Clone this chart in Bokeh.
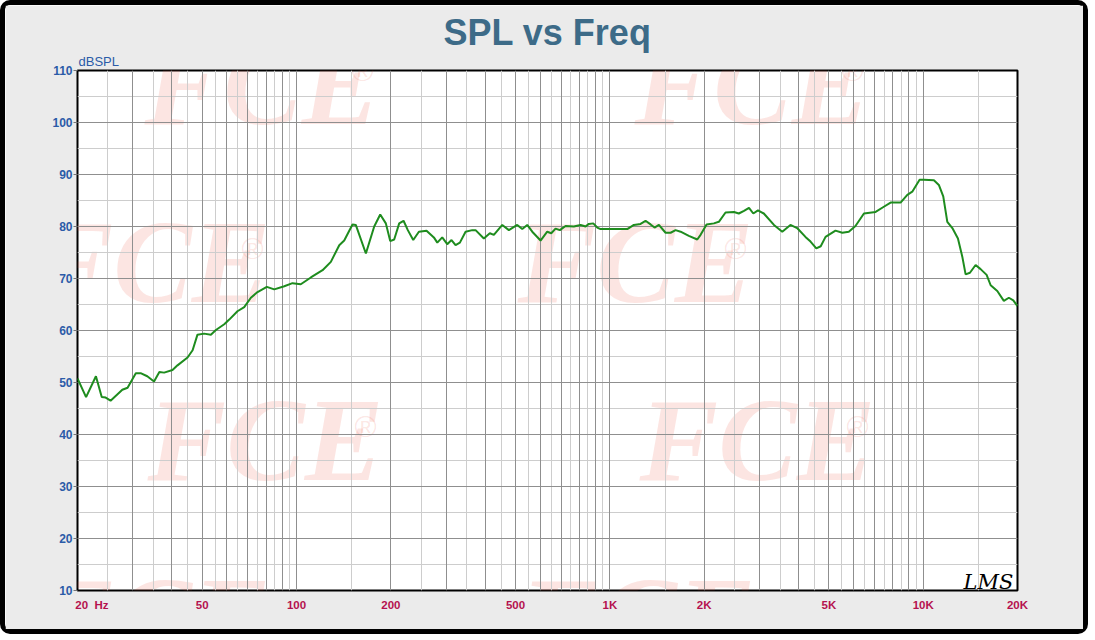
from bokeh.plotting import figure
from bokeh.models import FixedTicker, Grid, Label, Title
from bokeh.embed import file_html
from bokeh.resources import INLINE

# ---- data ----
freq_hz = [20, 21.3, 22.9, 23.9, 24.6, 25.5, 27.8, 28.9, 30.7, 31.8, 33.4, 35.1, 36.5, 37.8,
           40.2, 41.7, 44.9, 46.6, 48.3, 50.7, 53.3, 55.3, 58.8, 61.0, 64.8, 68.1, 71.5, 75.1,
           80.4, 84.9, 91.4, 97.1, 103.2, 111.1, 121.1, 128.7, 136.9, 142.0, 150.9, 154.6,
           166.5, 177.0, 185.0, 192.8, 199.1, 205, 212.7, 219.6, 226.6, 235.8, 245.8, 260,
           274.4, 281.4, 291.8, 302.7, 312.4, 321.8, 332.2, 346.4, 363.8, 372.8, 396.2, 414,
           426.4, 453.6, 476.2, 506.4, 525.4, 545, 565.4, 601, 631.2, 650.2, 671, 692.6, 722.2,
           767.6, 806.4, 836.6, 857, 885.2, 911.8, 934, 1030, 1137, 1193, 1253, 1300, 1349,
           1389, 1434, 1506, 1563, 1621, 1682, 1787, 1901, 1948, 2036, 2148, 2228, 2340, 2490,
           2580, 2680, 2780, 2870, 2970, 3100, 3340, 3550, 3770, 3960, 4210, 4370, 4560, 4710,
           4880, 5250, 5520, 5790, 6080, 6470, 7050, 7490, 7870, 8470, 8900, 9230, 9740, 10050,
           10820, 11220, 11590, 11940, 12390, 12910, 13330, 13660, 14100, 14700, 15250, 15940,
           16420, 17240, 18090, 18770, 19390, 20000]
spl_db = [50.8, 47.2, 51.2, 47.2, 47.1, 46.5, 48.6, 49.0, 51.8, 51.8, 51.2, 50.2, 52.0, 51.9,
          52.4, 53.3, 54.8, 56.2, 59.2, 59.4, 59.2, 60.1, 61.2, 62.1, 63.7, 64.5, 66.3, 67.4,
          68.4, 67.9, 68.5, 69.1, 68.9, 70.2, 71.6, 73.2, 76.4, 77.3, 80.4, 80.3,
          74.8, 80.0, 82.3, 80.6, 77.2, 77.5, 80.6, 81.1, 79.3, 77.4, 79.0, 79.2,
          77.9, 76.9, 77.9, 76.6, 77.4, 76.4, 76.9, 79.0, 79.3, 79.3, 77.7, 78.7,
          78.4, 80.3, 79.3, 80.3, 79.5, 80.3, 79.0, 77.3, 79.0, 78.7, 79.6, 79.3, 80.1,
          80.0, 80.3, 80.0, 80.5, 80.6, 79.8, 79.5, 79.5, 79.5, 80.3, 80.5, 81.1, 80.4,
          79.8, 80.3, 78.8, 78.8, 79.3, 79.0, 78.2, 77.5, 78.4, 80.4, 80.6, 80.9, 82.7, 82.8,
          82.5, 83.0, 83.6, 82.5, 83.1, 82.5, 80.3, 79.0, 80.3, 79.7, 78.0, 77.1, 75.8, 76.2,
          78.0, 79.2, 78.8, 79.0, 80.1, 82.5, 82.8, 83.8, 84.6, 84.6, 86.1, 86.7, 89.0, 89.0,
          88.9, 88.0, 85.8, 80.9, 79.7, 77.7, 74.2, 70.8, 71.1, 72.6, 71.8, 70.7,
          68.7, 67.6, 65.7, 66.3, 65.8, 64.7]

x_major_ticks = [20, 50, 100, 200, 500, 1000, 2000, 5000, 10000, 20000]
x_tick_labels = ["\u00a0" * 9 + "20\u00a0\u00a0Hz", "50", "100", "200", "500",
                 "1K", "2K", "5K", "10K", "20K"]
y_ticks = [10, 20, 30, 40, 50, 60, 70, 80, 90, 100, 110]
title_text = "SPL vs Freq"
y_unit_text = "dBSPL"

# grid line positions (log-paper pattern)
dark_x = (list(range(30, 101, 10)) + list(range(200, 1001, 100)) +
          list(range(2000, 10001, 1000)))
light_x = (list(range(25, 100, 10)) + list(range(150, 1000, 100)) +
           list(range(1500, 10000, 1000)) + [15000])
light_y = [15, 25, 35, 45, 55, 65, 75, 85, 95, 105]

TITLE_C = "#3d6b88"
YLAB_C = "#2b5ba8"
XLAB_C = "#b5124f"
BG = "#ebebeb"
FONT = "Liberation Sans"
WM_C = "#e8503c"

p = figure(width=1088, height=634, x_axis_type="log", x_range=(20, 20000), y_range=(10, 110),
           output_backend="svg", toolbar_location=None,
           min_border_left=72, min_border_right=76, min_border_top=65, min_border_bottom=49)
p.title = None
p.styles = {"border": "5px solid black", "border-radius": "10px"}
p.background_fill_color = "white"
p.border_fill_color = BG
p.outline_line_color = "black"
p.outline_line_width = 2
p.xgrid.visible = False
p.ygrid.visible = False


def px(X):
    return X - 77


def py(Y):
    return 590 - Y


# decorative watermark inside the plot area
for cx, cy in [(262, 84), (752, 84), (152, 262), (635, 262),
               (265, 440), (757, 440), (152, 619), (637, 619)]:
    p.add_layout(Label(x=px(cx), y=py(cy), x_units="screen", y_units="screen", text="FCE",
                       text_font="Liberation Sans Narrow", text_font_style="bold italic",
                       text_font_size="118px", text_color=WM_C, text_alpha=0.15,
                       text_align="center", text_baseline="middle", level="image"))
    p.add_layout(Label(x=px(cx + 100), y=py(cy - 14), x_units="screen", y_units="screen",
                       text="\u00ae", text_font="Liberation Sans", text_font_size="30px",
                       text_color=WM_C, text_alpha=0.15,
                       text_align="center", text_baseline="middle", level="image"))

for ticks, color, dim in [(light_x, "#cdcdcd", 0), (light_y, "#cdcdcd", 1),
                          (dark_x, "#8f8f8f", 0), (y_ticks, "#8f8f8f", 1)]:
    p.add_layout(Grid(dimension=dim, ticker=FixedTicker(ticks=ticks),
                      grid_line_color=color, grid_line_width=1))

p.line(freq_hz, spl_db, line_color="#1e8c1e", line_width=2)

xa = p.xaxis[0]
xa.ticker = FixedTicker(ticks=x_major_ticks)
xa.major_label_overrides = {t: l for t, l in zip(x_major_ticks, x_tick_labels)}
xa.axis_line_color = None
xa.major_tick_line_color = None
xa.minor_tick_line_color = None
xa.major_tick_out = 0
xa.major_tick_in = 0
xa.major_label_standoff = 8
xa.major_label_text_color = XLAB_C
xa.major_label_text_font = FONT
xa.major_label_text_font_size = "11.5px"
xa.major_label_text_font_style = "bold"

ya = p.yaxis[0]
ya.ticker = FixedTicker(ticks=y_ticks)
ya.axis_line_color = None
ya.minor_tick_line_color = None
ya.major_tick_line_color = "#777777"
ya.major_tick_out = 4
ya.major_tick_in = 0
ya.major_label_standoff = 1
ya.major_label_text_color = YLAB_C
ya.major_label_text_font = FONT
ya.major_label_text_font_size = "12px"
ya.major_label_text_font_style = "bold"

# headings above the plot area (first added = nearest the frame)
p.add_layout(Title(text=y_unit_text, align="left", offset=1, standoff=3,
                   text_font=FONT, text_font_size="13px", text_font_style="normal",
                   text_color=YLAB_C), "above")
p.add_layout(Title(text=title_text, align="center", standoff=-5,
                   text_font=FONT, text_font_size="36px", text_font_style="bold",
                   text_color=TITLE_C), "above")

p.add_layout(Label(x=px(963), y=py(581), x_units="screen", y_units="screen", text="LMS",
                   text_font="DejaVu Serif", text_font_style="italic", text_font_size="21px",
                   text_color="black", text_align="left", text_baseline="alphabetic"))

open("out.html", "w").write(file_html(p, INLINE))
